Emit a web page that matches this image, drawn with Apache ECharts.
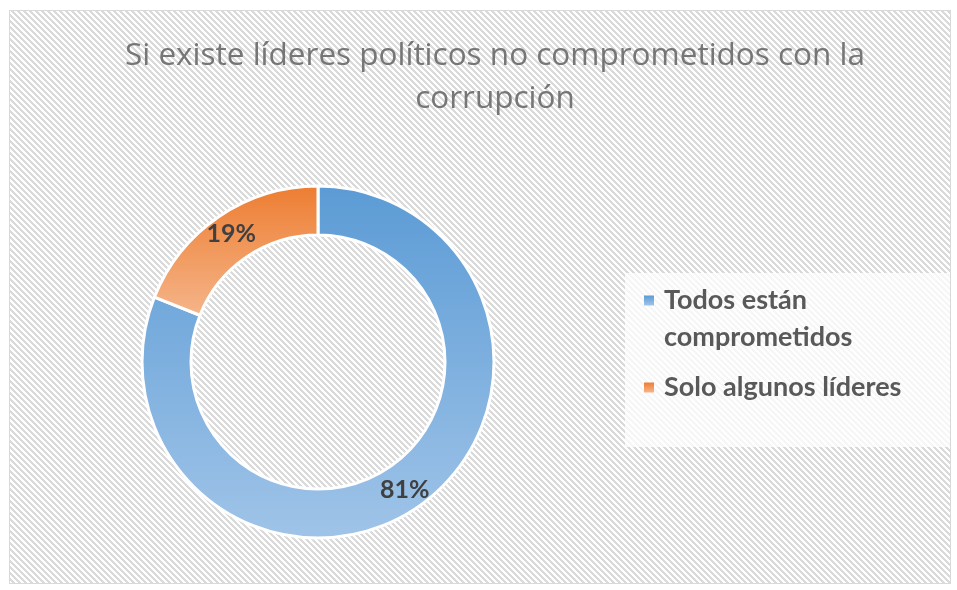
<!DOCTYPE html>
<html>
<head>
<meta charset="utf-8">
<script src="https://cdn.jsdelivr.net/npm/echarts@6/dist/echarts.min.js"></script>
<style>
html,body{margin:0;padding:0;background:#fff;width:957px;height:590px;overflow:hidden;}
#bg{position:absolute;left:9px;top:10px;width:940px;height:572px;border:1px solid #d9d9d9;
background:repeating-linear-gradient(45deg,#ffffff 0px,#ffffff 2.12px,#dadada 2.12px,#dadada 4.2426px);}
#legbg{position:absolute;left:625px;top:273px;width:325px;height:174px;background:rgba(255,255,255,0.75);}
#chart{position:absolute;left:0;top:0;width:957px;height:590px;}
</style>
</head>
<body>
<div id="bg"></div>
<div id="legbg"></div>
<div id="chart"></div>
<script>
const titleText = 'Si existe líderes políticos no comprometidos con la\ncorrupción';
const categories = ['Todos están comprometidos', 'Solo algunos líderes'];
const legendLines = [['Todos están', 'comprometidos'], ['Solo algunos líderes']];
const values = [81, 19];
const gradients = [['#5B9BD5', '#A0C4E8'], ['#ED7D31', '#F5B58A']];

const chart = echarts.init(document.getElementById('chart'), null, {renderer: 'canvas'});
const font = 'Lato, "Open Sans", sans-serif';
const grad = i => ({type: 'linear', x: 0, y: 0, x2: 0, y2: 1,
  colorStops: [{offset: 0, color: gradients[i][0]}, {offset: 1, color: gradients[i][1]}]});
const rich = {
  t: {fontFamily: font, fontWeight: 'bold', fontSize: 27, color: '#595959', lineHeight: 37, padding: [0, 0, 0, 10]},
  ind: {width: 10, height: 10},
  b0: {width: 10, height: 10, backgroundColor: grad(0)},
  b1: {width: 10, height: 10, backgroundColor: grad(1)}
};
chart.setOption({
  backgroundColor: 'transparent',
  animation: false,
  title: {
    text: titleText,
    left: 490, top: 30, textAlign: 'center',
    textStyle: {fontFamily: '"Open Sans", Lato, sans-serif', fontWeight: 'normal', fontSize: 31.5, color: '#767676', lineHeight: 43}
  },
  legend: {
    orient: 'vertical',
    left: 637, top: 282,
    padding: 0,
    itemWidth: 1, itemHeight: 10, itemGap: 13,
    itemStyle: {opacity: 0},
    data: categories,
    formatter: name => {
      const i = categories.indexOf(name);
      return legendLines[i].map((l, k) => (k === 0 ? '{b' + i + '|}' : '{ind|}') + '{t|' + l + '}').join('\n');
    },
    textStyle: {fontFamily: font, fontWeight: 'bold', fontSize: 27, color: '#595959', lineHeight: 37, rich: rich}
  },
  series: [{
    type: 'pie',
    center: [318, 362],
    radius: [127, 176],
    startAngle: 90,
    clockwise: true,
    label: {
      show: true, position: 'inside',
      formatter: p => p.value + '%',
      fontFamily: font, fontWeight: 'bold', fontSize: 25, color: '#404040'
    },
    labelLine: {show: false},
    itemStyle: {borderColor: '#fff', borderWidth: 3},
    emphasis: {disabled: true},
    data: categories.map((c, i) => ({name: c, value: values[i], itemStyle: {color: grad(i)}}))
  }]
});
</script>
</body>
</html>
